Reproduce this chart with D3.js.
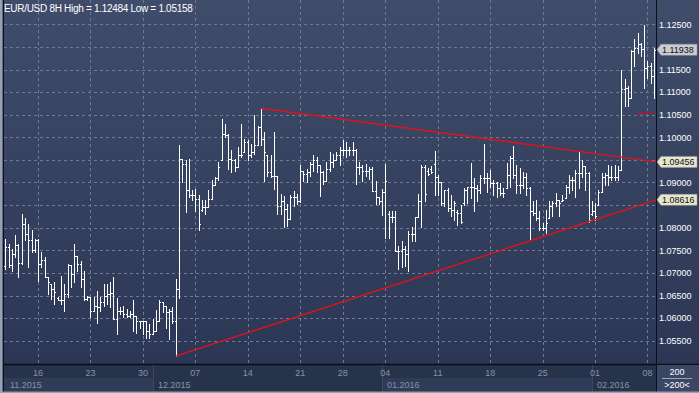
<!DOCTYPE html>
<html><head><meta charset="utf-8">
<script src="https://cdn.jsdelivr.net/npm/d3@7"></script>
<style>html,body{margin:0;padding:0;background:#27324b;}svg{display:block;}</style>
</head><body><svg id="c" width="699" height="393"></svg>
<script>
// ---- DATA (EUR/USD 8H OHLC) ----
const highs = [1.0774,1.0764,1.0753,1.0783,1.0764,1.0831,1.0822,1.0809,1.0794,1.0775,1.0775,1.0746,1.0735,1.0690,1.0676,1.0679,1.0647,1.0694,1.0676,1.0720,1.0717,1.0763,1.0738,1.0727,1.0705,1.0650,1.0646,1.0646,1.0659,1.0646,1.0676,1.0676,1.0679,1.0690,1.0644,1.0624,1.0626,1.0620,1.0616,1.0639,1.0605,1.0594,1.0594,1.0594,1.0587,1.0598,1.0618,1.0639,1.0635,1.0627,1.0620,1.0624,1.0687,1.0983,1.0953,1.0949,1.0951,1.0883,1.0886,1.0872,1.0861,1.0861,1.0883,1.0905,1.0912,1.0946,1.1041,1.1030,1.1008,1.0972,1.0952,1.0978,1.1030,1.0997,1.0993,1.0986,1.1049,1.1026,1.10642,1.1012,1.0960,1.0960,1.1012,1.0915,1.0875,1.0871,1.0852,1.0873,1.0882,1.0875,1.0938,1.0926,1.0930,1.0945,1.0960,1.0956,1.0938,1.0926,1.0945,1.0967,1.0963,1.0967,1.0978,1.0993,1.0989,1.0978,1.0989,1.0975,1.0945,1.0938,1.0941,1.0934,1.0934,1.0904,1.0867,1.0886,1.0940,1.0838,1.0838,1.0838,1.0760,1.0771,1.0760,1.0793,1.0801,1.0824,1.0875,1.0938,1.0938,1.0932,1.0936,1.0969,1.0917,1.0902,1.0884,1.0887,1.0873,1.0858,1.0839,1.0850,1.0887,1.0891,1.0943,1.0910,1.0895,1.0917,1.0986,1.0921,1.0928,1.0906,1.0902,1.0898,1.0887,1.0943,1.0958,1.0980,1.0939,1.0932,1.0924,1.0921,1.0891,1.0858,1.0862,1.0836,1.0810,1.0839,1.0858,1.0858,1.0876,1.0862,1.0873,1.0895,1.0917,1.0913,1.0928,1.0969,1.0950,1.0936,1.0924,1.0858,1.0854,1.0884,1.0921,1.0921,1.0939,1.0936,1.0939,1.0936,1.1150,1.1128,1.1113,1.1194,1.1217,1.1230,1.1209,1.12484,1.1169,1.1165,1.1198];
const lows = [1.0709,1.0713,1.0705,1.0735,1.0690,1.0720,1.0772,1.0713,1.0746,1.0746,1.0683,1.0713,1.0690,1.0653,1.0642,1.0631,1.0639,1.0631,1.0616,1.0646,1.0668,1.0679,1.0705,1.0668,1.0639,1.0639,1.0602,1.0616,1.0590,1.0616,1.0627,1.0631,1.0624,1.0598,1.0565,1.0609,1.0602,1.0602,1.0602,1.0572,1.0568,1.0579,1.0565,1.0557,1.0557,1.0565,1.0572,1.0594,1.0613,1.0579,1.0553,1.0590,1.05158,1.0644,1.0901,1.0835,1.0868,1.0861,1.0838,1.0794,1.0838,1.0831,1.0846,1.0864,1.0894,1.0905,1.0949,1.1000,1.0930,1.0923,1.0926,1.0934,1.0956,1.0967,1.0949,1.0956,1.0963,1.0982,1.0982,1.0904,1.0915,1.0912,1.0886,1.0830,1.0830,1.0801,1.0804,1.0819,1.0849,1.0852,1.0856,1.0904,1.0901,1.0915,1.0926,1.0923,1.0871,1.0897,1.0904,1.0926,1.0934,1.0949,1.0938,1.0960,1.0956,1.0960,1.0960,1.0897,1.0919,1.0904,1.0915,1.0908,1.0882,1.0852,1.0852,1.0827,1.0778,1.0778,1.0812,1.0749,1.0708,1.0712,1.0716,1.0704,1.0771,1.0771,1.0823,1.0801,1.0860,1.0917,1.0921,1.0873,1.0873,1.0850,1.0847,1.0836,1.0825,1.0817,1.0806,1.0810,1.0850,1.0854,1.0865,1.0836,1.0858,1.0876,1.0898,1.0880,1.0891,1.0873,1.0869,1.0873,1.0869,1.0887,1.0891,1.0910,1.0876,1.0876,1.0887,1.0873,1.0776,1.0828,1.0817,1.0795,1.0795,1.0788,1.0821,1.0825,1.0847,1.0825,1.0858,1.0865,1.0876,1.0884,1.0869,1.0887,1.0913,1.0884,1.0813,1.0828,1.0817,1.0850,1.0880,1.0895,1.0895,1.0906,1.0906,1.0906,1.0928,1.1069,1.1069,1.1087,1.1158,1.1187,1.1180,1.1109,1.1132,1.1121,1.1087];
const opens = [1.0715,1.0757,1.0717,1.0742,1.0761,1.0722,1.0809,1.0787,1.0772,1.0750,1.0773,1.0720,1.0729,1.0690,1.0676,1.0664,1.0645,1.0640,1.0639,1.0653,1.0717,1.0698,1.0738,1.0720,1.0687,1.0642,1.0646,1.0615,1.0627,1.0624,1.0635,1.0650,1.0653,1.0655,1.0598,1.0616,1.0615,1.0609,1.0605,1.0609,1.0605,1.0594,1.0593,1.0593,1.0572,1.0565,1.0572,1.0594,1.0635,1.0627,1.0613,1.0616,1.0594,1.0664,1.0953,1.0942,1.0883,1.0873,1.0872,1.0864,1.0840,1.0846,1.0846,1.0864,1.0894,1.0911,1.0949,1.1008,1.1004,1.0952,1.0950,1.0934,1.0960,1.0967,1.0989,1.0960,1.0967,1.0982,1.1023,1.0997,1.0960,1.0923,1.0915,1.0915,1.0849,1.0860,1.0841,1.0819,1.0867,1.0867,1.0860,1.0926,1.0919,1.0923,1.0941,1.0949,1.0938,1.0923,1.0904,1.0930,1.0945,1.0949,1.0960,1.0971,1.0971,1.0972,1.0971,1.0971,1.0934,1.0934,1.0926,1.0926,1.0930,1.0882,1.0867,1.0860,1.0878,1.0830,1.0823,1.0823,1.0749,1.0749,1.0753,1.0741,1.0786,1.0786,1.0823,1.0860,1.0934,1.0925,1.0930,1.0940,1.0913,1.0902,1.0854,1.0884,1.0843,1.0839,1.0835,1.0832,1.0855,1.0884,1.0891,1.0891,1.0887,1.0884,1.0910,1.0910,1.0910,1.0898,1.0898,1.0887,1.0876,1.0887,1.0917,1.0954,1.0917,1.0895,1.0895,1.0913,1.0887,1.0836,1.0833,1.0821,1.0799,1.0799,1.0821,1.0847,1.0854,1.0862,1.0858,1.0865,1.0891,1.0906,1.0906,1.0921,1.0921,1.0936,1.0921,1.0830,1.0836,1.0850,1.0880,1.0913,1.0917,1.0913,1.0913,1.0913,1.0928,1.1106,1.1109,1.1087,1.1191,1.1198,1.1206,1.1196,1.1154,1.1158,1.1135];
const closes = [1.0757,1.0717,1.0742,1.0761,1.0722,1.0809,1.0787,1.0772,1.0750,1.0773,1.0720,1.0729,1.0690,1.0679,1.0664,1.0657,1.0640,1.0639,1.0653,1.0717,1.0698,1.0738,1.0720,1.0687,1.0642,1.0646,1.0615,1.0627,1.0624,1.0635,1.0650,1.0653,1.0655,1.0598,1.0616,1.0615,1.0609,1.0605,1.0609,1.0605,1.0594,1.0593,1.0593,1.0572,1.0565,1.0572,1.0594,1.0635,1.0627,1.0613,1.0616,1.0594,1.0664,1.0953,1.0942,1.0883,1.0873,1.0872,1.0864,1.0809,1.0846,1.0846,1.0864,1.0894,1.0911,1.0935,1.1008,1.1004,1.0952,1.0950,1.0934,1.0960,1.0960,1.0989,1.0960,1.0967,1.0982,1.1023,1.0997,1.0967,1.0923,1.0915,1.0915,1.0849,1.0860,1.0841,1.0819,1.0867,1.0867,1.0860,1.0926,1.0919,1.0923,1.0941,1.0949,1.0938,1.0923,1.0904,1.0930,1.0945,1.0949,1.0960,1.0971,1.0971,1.0972,1.0971,1.0971,1.0934,1.0934,1.0926,1.0926,1.0930,1.0882,1.0867,1.0860,1.0878,1.0904,1.0823,1.0823,1.0749,1.0749,1.0753,1.0741,1.0786,1.0786,1.0823,1.0860,1.0934,1.0875,1.0919,1.0924,1.0913,1.0902,1.0854,1.0884,1.0843,1.0839,1.0854,1.0832,1.0813,1.0884,1.0891,1.0891,1.0887,1.0884,1.0910,1.0910,1.0910,1.0898,1.0898,1.0887,1.0876,1.0876,1.0917,1.0954,1.0917,1.0895,1.0895,1.0913,1.0887,1.0836,1.0833,1.0821,1.0799,1.0799,1.0810,1.0847,1.0854,1.0862,1.0854,1.0862,1.0891,1.0906,1.0906,1.0921,1.0921,1.0936,1.0921,1.0817,1.0836,1.0825,1.0880,1.0913,1.0917,1.0913,1.0913,1.0913,1.0928,1.1106,1.1109,1.1087,1.1191,1.1198,1.1206,1.1196,1.1154,1.1158,1.1135,1.11938];

const priceTicks = [1.055,1.060,1.065,1.070,1.075,1.080,1.085,1.090,1.095,1.100,1.105,1.110,1.115,1.120,1.125];
const dayTickIndex = [10,26,42,58,74,90,103,116,132,148,164,180,196];
const dayTickLabels = ["16","23","30","07","14","21","28","04","11","18","25","01","08"];
const monthStartIndex = [0,45,115,179];
const monthLabels = ["11.2015","12.2015","01.2016","02.2016"];
// trend lines: [startIndex, startPrice, endIndex(at right edge), endPrice]
const upperTrend = [78, 1.10642, 198.6, 1.09456];
const lowerTrend = [52, 1.05158, 198.6, 1.08616];
const shortLevel = [193, 198, 1.1053];
const markerValues = [1.11938, 1.09456, 1.08616];
const markerKinds = ["current","line","line"];
const titleText = "EUR/USD 8H High = 1.12484 Low = 1.05158";

// ---- LAYOUT ----
const W = 699, H = 393;
const plotL = 3, plotR = 656, plotB = 364;
const N = highs.length;
const x = d3.scaleLinear().domain([-0.4, N - 0.4]).range([4, plotR]);
const y = d3.scaleLinear().domain([1.055, 1.125]).range([340.7, 24.3]);
const svg = d3.select("#c");

const defs = svg.append("defs");
const g1 = defs.append("linearGradient").attr("id","bg").attr("x1",0).attr("y1",0).attr("x2",0).attr("y2",1);
g1.append("stop").attr("offset","0%").attr("stop-color","#404d6a");
g1.append("stop").attr("offset","100%").attr("stop-color","#2b3755");

svg.append("rect").attr("x",0).attr("y",0).attr("width",W).attr("height",H).attr("fill","#27324b");
svg.append("rect").attr("x",plotL).attr("y",0).attr("width",W-plotL).attr("height",plotB).attr("fill","url(#bg)");

// grid
const grid = svg.append("g").attr("stroke","#6c7a98").attr("stroke-width",1).attr("stroke-dasharray","3,3");
priceTicks.forEach(v=>{
  const yy = Math.round(y(v))+0.5;
  grid.append("line").attr("x1",plotL+1).attr("x2",plotR).attr("y1",yy).attr("y2",yy);
});
dayTickIndex.forEach(i=>{
  const xx = Math.round(x(i))+0.5;
  grid.append("line").attr("x1",xx).attr("x2",xx).attr("y1",0).attr("y2",plotB);
});

// title
svg.append("text").attr("x",4).attr("y",12).attr("fill","#ffffff")
  .attr("font-family","Liberation Sans, Arial, sans-serif").attr("font-size",10)
  .attr("letter-spacing","-0.3").text(titleText);

// bars
const bars = svg.append("g").attr("stroke","#ffffff").attr("stroke-width",1).attr("shape-rendering","crispEdges");
d3.range(N).forEach(i=>{
  const xc = Math.round(x(i));
  const yh = Math.round(y(highs[i])), yl = Math.max(Math.round(y(lows[i])), yh+1);
  const yo = Math.round(y(opens[i]))+0.5, yc = Math.round(y(closes[i]))+0.5;
  bars.append("line").attr("x1",xc+0.5).attr("x2",xc+0.5).attr("y1",yh).attr("y2",yl+1);
  bars.append("line").attr("x1",xc-1).attr("x2",xc).attr("y1",yo).attr("y2",yo);
  bars.append("line").attr("x1",xc+1).attr("x2",xc+2).attr("y1",yc).attr("y2",yc);
});

// trend lines
const tl = svg.append("g").attr("stroke","#e0121c").attr("stroke-width",1.4).attr("fill","none");
[upperTrend, lowerTrend].forEach(t=>{
  tl.append("line").attr("x1",x(t[0])).attr("y1",y(t[1])).attr("x2",x(t[2])).attr("y2",y(t[3]));
});
svg.append("line").attr("x1",x(shortLevel[0])).attr("x2",x(shortLevel[1])).attr("y1",y(shortLevel[2])).attr("y2",y(shortLevel[2]))
  .attr("stroke","#c4141c").attr("stroke-width",1.2);

// axis frame lines
svg.append("line").attr("x1",plotR+0.5).attr("x2",plotR+0.5).attr("y1",0).attr("y2",H).attr("stroke","#0b0f18").attr("stroke-width",1);
svg.append("line").attr("x1",plotL).attr("x2",W).attr("y1",plotB+0.5).attr("y2",plotB+0.5).attr("stroke","#0b0f18").attr("stroke-width",1.5);
svg.append("line").attr("x1",plotL+0.5).attr("x2",plotL+0.5).attr("y1",0).attr("y2",H).attr("stroke","#0b0f18").attr("stroke-width",1);

// price labels (those hidden under a marker box are not drawn)
const font = "Liberation Sans, Arial, sans-serif";
priceTicks.forEach(v=>{
  const covered = markerValues.some(m => Math.abs(y(m) - y(v)) < 11);
  if (covered) return;
  svg.append("text").attr("x",659).attr("y",y(v)+3.3).attr("fill","#ffffff").attr("font-family",font).attr("font-size",9)
    .text(v.toFixed(5));
});
// markers
markerValues.forEach((v,k)=>{
  const yy = y(v);
  const fill = markerKinds[k]==="current" ? "#c9ccd1" : "#e6e6cf";
  svg.append("path").attr("d",`M657,${yy} L661,${yy-5.5} L697,${yy-5.5} L697,${yy+5.5} L661,${yy+5.5} Z`)
    .attr("fill",fill).attr("stroke","#9a9a9a").attr("stroke-width",0.5);
  svg.append("text").attr("x",662).attr("y",yy+3.3).attr("fill","#111111").attr("font-family",font).attr("font-size",9)
    .text(v.toFixed(5));
});

// bottom axis
const bottom = svg.append("g");
monthStartIndex.forEach((s,k)=>{
  const x0 = k===0 ? plotL+1 : Math.round(x(s));
  const x1 = k<monthStartIndex.length-1 ? Math.round(x(monthStartIndex[k+1])) : plotR;
  if(k%2===0) bottom.append("rect").attr("x",x0).attr("y",378).attr("width",x1-x0).attr("height",13).attr("fill","#2f3b57");
  if(k>0) bottom.append("line").attr("x1",x0+0.5).attr("x2",x0+0.5).attr("y1",365).attr("y2",H).attr("stroke","#3c4863");
  bottom.append("text").attr("x",k===0?10:x0+5).attr("y",388).attr("fill","#8893a8").attr("font-family",font).attr("font-size",9)
    .text(monthLabels[k]);
});
dayTickIndex.forEach((i,k)=>{
  bottom.append("text").attr("x",x(i)).attr("y",376).attr("text-anchor","middle").attr("fill","#8893a8")
    .attr("font-family",font).attr("font-size",9).text(dayTickLabels[k]);
});

// corner box
svg.append("rect").attr("x",plotR+1).attr("y",plotB+1).attr("width",W-plotR-1).attr("height",H-plotB-1).attr("fill","#3a4664");
svg.append("text").attr("x",677).attr("y",375).attr("text-anchor","middle").attr("fill","#ffffff").attr("font-family",font).attr("font-size",9).text(String(N+1));
svg.append("line").attr("x1",662).attr("x2",692).attr("y1",378.5).attr("y2",378.5).attr("stroke","#9aa3b6");
svg.append("text").attr("x",677).attr("y",388).attr("text-anchor","middle").attr("fill","#ffffff").attr("font-family",font).attr("font-size",9).text(">" + (N+1) + "<");

// outer border
svg.append("rect").attr("x",0).attr("y",0).attr("width",2.5).attr("height",H).attr("fill","#98a1b3");
svg.append("rect").attr("x",0).attr("y",H-1.5).attr("width",W).attr("height",1.5).attr("fill","#98a1b3");
</script></body></html>
